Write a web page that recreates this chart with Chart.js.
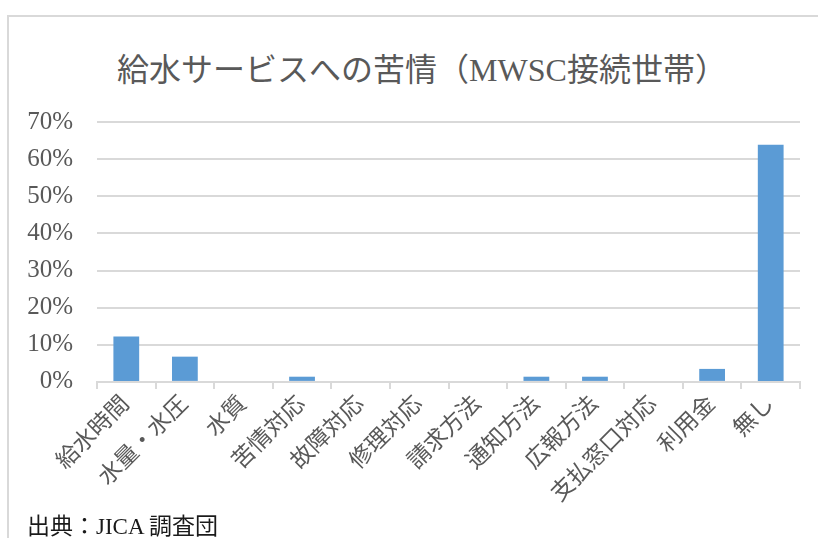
<!DOCTYPE html>
<html>
<head>
<meta charset="utf-8">
<script src="https://cdn.jsdelivr.net/npm/chart.js@4"></script>
<style>
  html, body { margin: 0; padding: 0; background: #fff; }
  #wrap { position: relative; width: 818px; height: 538px; overflow: hidden; }
  #frame { position: absolute; left: 7px; top: 15px; right: -2px; bottom: -2px;
    border-top: 2px solid #d9d9d9; border-left: 2px solid #d9d9d9; }
  #chart { position: absolute; left: 0; top: 0; }
  #title { position: absolute; left: 0; width: 844px; top: 44px; line-height: 38px; text-align: center;
    font: 32px "Liberation Serif", "Noto Sans CJK JP", serif; color: #595959; white-space: nowrap; }
  #source { position: absolute; left: 27px; top: 507px; font: 23px "Liberation Serif", "Noto Sans CJK JP", serif; color: #1a1a1a; }
</style>
</head>
<body>
<div id="wrap">
  <div id="frame"></div>
  <div id="title">給水サービスへの苦情（MWSC接続世帯）</div>
  <canvas id="chart" width="818" height="538"></canvas>
  <div id="source">出典：JICA 調査団</div>
</div>
<script>
const categories = ["給水時間", "水量・水圧", "水質", "苦情対応", "故障対応", "修理対応",
  "請求方法", "通知方法", "広報方法", "支払窓口対応", "利用金", "無し"];
const shares = [12.2, 6.8, 0, 1.4, 0, 0, 0, 1.4, 1.4, 0, 3.5, 63.9];
const yTicks = [0, 10, 20, 30, 40, 50, 60, 70];

const fontFamily = '"Liberation Serif", "Noto Sans CJK JP", serif';
const grey = "#595959";

new Chart(document.getElementById("chart"), {
  type: "bar",
  data: {
    labels: categories,
    datasets: [{
      data: shares,
      backgroundColor: "#5b9bd5",
      categoryPercentage: 1,
      barPercentage: 0.44
    }]
  },
  options: {
    responsive: false,
    animation: false,
    layout: { padding: { left: 0, right: 18, top: 122, bottom: 28 } },
    plugins: {
      legend: { display: false },
      tooltip: { enabled: false }
    },
    scales: {
      x: {
        grid: { display: true, drawOnChartArea: false, drawTicks: true, tickLength: 7, color: "#d9d9d9", lineWidth: 2 },
        border: { display: true, color: "#d9d9d9", width: 2 },
        ticks: {
          color: grey,
          font: { family: fontFamily, size: 23 },
          minRotation: 45,
          maxRotation: 45,
          padding: 2
        }
      },
      y: {
        min: 0,
        max: 70,
        afterBuildTicks: (scale) => { scale.ticks = yTicks.map(v => ({ value: v })); },
        afterFit: (scale) => { scale.width = 97; },
        grid: { color: "#d9d9d9", lineWidth: 2, drawTicks: false },
        border: { display: false },
        ticks: {
          color: grey,
          font: { family: fontFamily, size: 25 },
          padding: 24,
          callback: (v) => v + "%"
        }
      }
    }
  }
});
</script>
</body>
</html>
